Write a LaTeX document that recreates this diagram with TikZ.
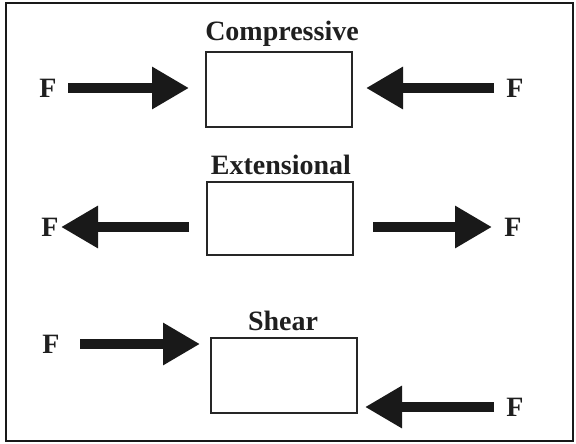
\documentclass[tikz,border=0pt]{standalone}
\usepackage{fontspec}
\setmainfont{Liberation Serif}
\usetikzlibrary{arrows.meta}
\begin{document}
\begin{tikzpicture}[x=1pt,y=-1pt,
  frame/.style={draw=black!90,line width=2.5pt},
  body/.style={draw=black!85,line width=2pt,fill=white},
  lbl/.style={font=\bfseries\fontsize{28}{28}\selectfont,text=black!88,inner sep=0pt},
  title/.style={lbl,anchor=base},
  force/.style={draw=black!90,line width=10.5pt,
    -{Triangle[length=37pt,width=40pt]}}]
\useasboundingbox (0,0) rectangle (576,444);
\draw[frame] (6,3) rectangle (573,441);

% Compressive
\node[body,minimum width=146pt,minimum height=75pt,inner sep=0pt] (bc) at (279,89.5) {};
\node[title] (tc) at (282,41) {Compressive};
\node[lbl] (fcl) at (48,88) {F};
\node[lbl] (fcr) at (515,88) {F};
\coordinate (cl0) at (68,88);  \coordinate (cl1) at (189,88);
\coordinate (cr0) at (494,88); \coordinate (cr1) at (366,88);
\draw[force] (cl0) -- (cl1);
\draw[force] (cr0) -- (cr1);

% Extensional
\node[body,minimum width=146pt,minimum height=73pt,inner sep=0pt] (be) at (280,218.5) {};
\node[title] (te) at (281,174) {Extensional};
\node[lbl] (fel) at (50,227) {F};
\node[lbl] (fer) at (513,227) {F};
\coordinate (el0) at (189,227); \coordinate (el1) at (61,227);
\coordinate (er0) at (373,227); \coordinate (er1) at (492,227);
\draw[force] (el0) -- (el1);
\draw[force] (er0) -- (er1);

% Shear
\node[body,minimum width=146pt,minimum height=75pt,inner sep=0pt] (bs) at (284,375.5) {};
\node[title] (ts) at (283,330) {Shear};
\node[lbl] (fsl) at (51,344) {F};
\node[lbl] (fsr) at (515,407) {F};
\coordinate (sl0) at (80,344);  \coordinate (sl1) at (200,344);
\coordinate (sr0) at (494,407); \coordinate (sr1) at (365,407);
\draw[force] (sl0) -- (sl1);
\draw[force] (sr0) -- (sr1);
\end{tikzpicture}
\end{document}
